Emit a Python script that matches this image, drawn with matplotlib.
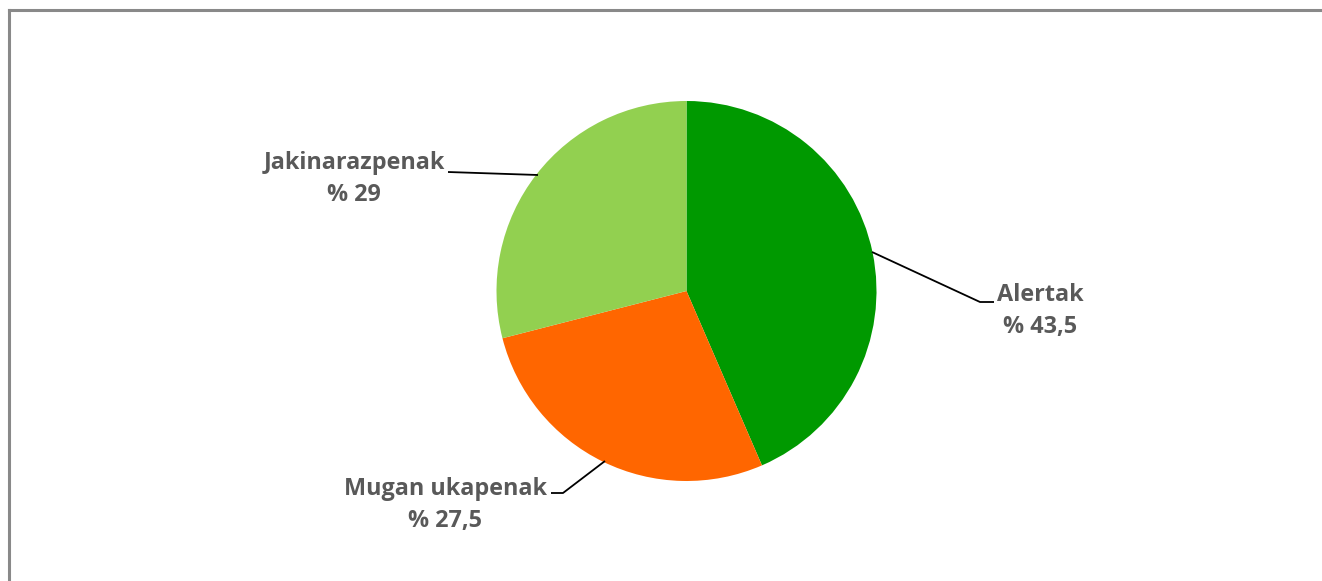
import matplotlib
matplotlib.use("Agg")
import matplotlib.pyplot as plt
from matplotlib.lines import Line2D

labels = ["Alertak", "Mugan ukapenak", "Jakinarazpenak"]
values = [43.5, 27.5, 29]
value_text = ["% 43,5", "% 27,5", "% 29"]
colors = ["#009900", "#FF6600", "#92D050"]

W, H = 1322, 581
fig = plt.figure(figsize=(W/100, H/100), dpi=100)
ax = fig.add_axes([0, 0, 1, 1])
R = 190.0
cx, cy = 686.5, 291.0

def d(px, py):
    return ((px - cx) / R, (cy - py) / R)

ax.axis("off")

ax.pie(values, colors=colors, startangle=90, counterclock=False, radius=1.0,
       center=(0, 0), wedgeprops=dict(linewidth=0))
ax.set_xlim(-cx / R, (W - cx) / R)
ax.set_ylim(-(H - cy) / R, cy / R)
ax.set_aspect("auto")

# leader lines (pixel-based anchors)
leaders = [
    [(872, 252), (980, 302), (994, 302)],
    [(605, 461), (563, 493), (551, 493)],
    [(538, 175), (448, 172)],
]
for pts in leaders:
    xs, ys = zip(*[d(*p) for p in pts])
    ax.plot(xs, ys, color="black", lw=1.3, solid_capstyle="butt")

label_pos = [(1040, 295, 327), (445, 489, 521), (354, 163, 195)]
for lab, vt, (px, py1, py2) in zip(labels, value_text, label_pos):
    x1, y1 = d(px, py1)
    x2, y2 = d(px, py2)
    ax.text(x1, y1, lab, ha="center", va="center", fontsize=16.8, fontweight="bold",
            color="#595959", family="Open Sans")
    ax.text(x2, y2, vt, ha="center", va="center", fontsize=16.8, fontweight="bold",
            color="#595959", family="Open Sans")

# frame border (top and left visible)
fig.add_artist(Line2D([9/W, 1.0], [1 - 10/H, 1 - 10/H], transform=fig.transFigure,
                      color="#898989", lw=2.2))
fig.add_artist(Line2D([9/W, 9/W], [0, 1 - 10/H], transform=fig.transFigure,
                      color="#898989", lw=2.2))

fig.savefig("out.png", dpi=100, facecolor="white")
